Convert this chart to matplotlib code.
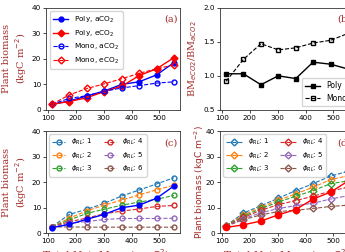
import matplotlib
matplotlib.use("Agg")
import matplotlib.pyplot as plt

# total nutrient levels on the x axis
nut = [115, 177, 240, 302, 365, 427, 490, 552]

# (a) plant biomass, kgC m-2
poly_a = [2.2, 3.5, 5.5, 7.4, 10.0, 11.0, 13.7, 18.5]
poly_e = [2.3, 3.3, 4.8, 7.2, 9.3, 13.4, 16.1, 20.4]
mono_a = [2.3, 4.5, 5.6, 7.3, 8.6, 9.5, 10.5, 11.0]
mono_e = [2.3, 5.9, 8.4, 10.2, 12.2, 14.3, 16.1, 17.6]

# (b) ratio eCO2 / aCO2
ratio_poly = [1.03, 1.03, 0.87, 1.00, 0.96, 1.20, 1.17, 1.10]
ratio_mono = [0.92, 1.24, 1.47, 1.38, 1.41, 1.48, 1.52, 1.62]

# (c) mono aCO2 for phi_RL = 1..6
phi_labels = ['1', '2', '3', '4', '5', '6']
c_phi = [
    [2.6, 7.4, 9.4, 11.7, 14.6, 16.9, 19.3, 21.7],
    [2.6, 5.9, 8.8, 11.0, 13.0, 15.0, 17.0, 18.8],
    [2.6, 5.2, 7.8, 9.4, 11.0, 12.2, 13.3, 14.8],
    [2.5, 4.5, 6.0, 7.6, 8.7, 9.5, 10.5, 10.9],
    [2.5, 3.9, 4.6, 5.4, 5.8, 5.8, 5.8, 5.9],
    [2.5, 2.5, 2.4, 2.4, 2.4, 2.4, 2.4, 2.4],
]

# (d) mono eCO2 for phi_RL = 1..6
d_phi = [
    [3.0, 7.9, 10.8, 13.7, 16.7, 19.4, 22.4, 24.2],
    [3.0, 7.2, 10.2, 12.9, 15.4, 18.0, 21.0, 22.5],
    [3.0, 6.6, 9.7, 12.2, 14.5, 16.7, 19.4, 20.5],
    [2.9, 6.2, 9.0, 11.2, 12.8, 14.5, 16.5, 18.0],
    [2.9, 5.7, 8.0, 9.7, 10.8, 11.8, 13.4, 14.7],
    [2.8, 5.3, 7.2, 8.5, 9.0, 9.7, 10.5, 11.0],
]

W, H = 345, 252
fig = plt.figure(figsize=(W / 100, H / 100), dpi=100)


def box(x0, y0, x1, y1):
    return [x0 / W, 1 - y1 / H, (x1 - x0) / W, (y1 - y0) / H]


ax_a = fig.add_axes(box(46, 7.5, 180, 110))
ax_b = fig.add_axes(box(220, 7.5, 354, 110))
ax_c = fig.add_axes(box(46, 131, 180, 233.3))
ax_d = fig.add_axes(box(220, 131, 354, 233.3))

red = '#a52a2a'
serif = 'DejaVu Serif'
tab = ['tab:blue', 'tab:orange', 'tab:green', 'tab:red', 'tab:purple', 'tab:brown']

for ax in [ax_a, ax_b, ax_c, ax_d]:
    ax.tick_params(labelsize=5.2, length=2, width=0.5, pad=1.5)
    for s in ax.spines.values():
        s.set_linewidth(0.6)
        s.set_color('#333333')
    ax.set_xticks([100, 200, 300, 400, 500])

# (a)
ax_a.plot(nut, poly_a, '-o', color='blue', lw=1, ms=3.5, label='Poly, aCO$_2$')
ax_a.plot(nut, poly_e, '-D', color='red', lw=1, ms=3.5, label='Poly, eCO$_2$')
ax_a.plot(nut, mono_a, '--o', color='blue', lw=0.8, ms=3.5, mfc='none', label='Mono, aCO$_2$')
ax_a.plot(nut, mono_e, '--D', color='red', lw=0.8, ms=3.5, mfc='none', label='Mono, eCO$_2$')
ax_a.set_ylim(0, 40)
ax_a.set_yticks([0, 10, 20, 30, 40])
ax_a.legend(loc='upper left', fontsize=5.3, handlelength=2, borderpad=0.5, labelspacing=0.45)
ax_a.text(0.98, 0.93, '(a)', transform=ax_a.transAxes, ha='right', va='top',
          color=red, family=serif, fontsize=7)
ax_a.set_ylabel('Plant biomass\n(kgC m$^{-2}$)', color=red, family=serif, fontsize=7)
ax_a.yaxis.set_label_coords(-0.125, 0.5)

# (b)
ax_b.plot(nut, ratio_poly, '-s', color='black', lw=1, ms=3.5, label='Poly')
ax_b.plot(nut, ratio_mono, '--s', color='black', lw=0.8, ms=3.5, mfc='none', label='Mono')
ax_b.set_ylim(0.5, 2.0)
ax_b.set_yticks([0.5, 1.0, 1.5, 2.0])
ax_b.legend(loc='lower right', fontsize=5.5, handlelength=2)
ax_b.text(0.98, 0.93, '(b)', transform=ax_b.transAxes, ha='right', va='top',
          color=red, family=serif, fontsize=7)
ax_b.set_ylabel('BM$_{eCO2}$/BM$_{aCO2}$', color=red, family=serif, fontsize=7)
ax_b.yaxis.set_label_coords(-0.16, 0.5)

# (c)
for vals, lab, col in zip(c_phi, phi_labels, tab):
    ax_c.plot(nut, vals, '--o', color=col, lw=0.8, ms=3.5, mfc='none',
              label=r'$\phi_{RL}$: ' + lab)
ax_c.plot(nut, poly_a, '-o', color='blue', lw=1, ms=3.5)
ax_c.set_ylim(0, 40)
ax_c.set_yticks([0, 10, 20, 30, 40])
ax_c.legend(loc='upper left', ncol=2, fontsize=5, handlelength=1.8,
            handletextpad=0.9, columnspacing=1.6, labelspacing=0.45)
ax_c.text(0.98, 0.93, '(c)', transform=ax_c.transAxes, ha='right', va='top',
          color=red, family=serif, fontsize=7)
ax_c.set_ylabel('Plant biomass\n(kgC m$^{-2}$)', color=red, family=serif, fontsize=7)
ax_c.yaxis.set_label_coords(-0.125, 0.5)
ax_c.set_xlabel('Total Nut. Mass (g m$^{-2}$)', color=red, family=serif, fontsize=7.5)
ax_c.xaxis.set_label_coords(0.45, -0.14)

# (d)
for vals, lab, col in zip(d_phi, phi_labels, tab):
    ax_d.plot(nut, vals, '--D', color=col, lw=0.8, ms=3.5, mfc='none',
              label=r'$\phi_{RL}$: ' + lab)
ax_d.plot(nut, poly_e, '-o', color='red', lw=1, ms=4.5)
ax_d.set_ylim(0, 40)
ax_d.set_yticks([0, 10, 20, 30, 40])
ax_d.legend(loc='upper left', ncol=2, fontsize=5, handlelength=2.2,
            handletextpad=0.9, columnspacing=1.6, labelspacing=0.45)
ax_d.text(0.98, 0.93, '(d)', transform=ax_d.transAxes, ha='right', va='top',
          color=red, family=serif, fontsize=7)
ax_d.set_ylabel('Plant biomass (kgC m$^{-2}$)', color=red, fontsize=6.6)
ax_d.yaxis.set_label_coords(-0.1, 0.5)
ax_d.set_xlabel('Total Nut. Mass (g m$^{-2}$)', color=red, family=serif, fontsize=7.5)
ax_d.xaxis.set_label_coords(0.5, -0.14)

fig.savefig('out.png', dpi=100)
